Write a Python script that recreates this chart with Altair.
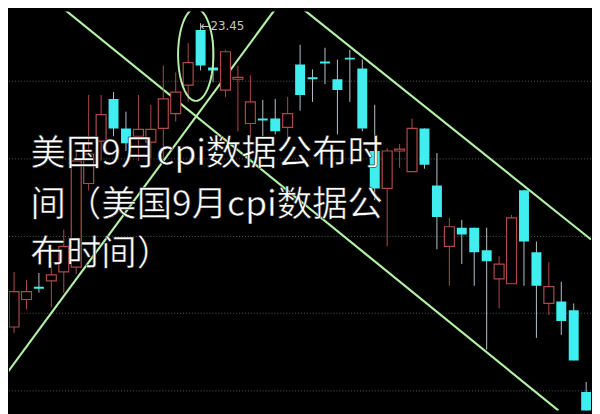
import altair as alt
import pandas as pd
import numpy as np

# Candles (index, open, high, low, close)
opens  = [20.23,20.36,20.64,20.77,20.83,20.92,20.97,21.82,22.25,22.68,22.38,22.30,22.24,22.38,22.53,22.82,
          23.38,23.00,22.77,22.88,22.43,22.48,22.48,22.39,23.03,22.90,23.06,22.88,23.10,22.99,22.15,21.77,
          22.15,21.94,22.38,21.80,21.18,21.37,21.37,21.14,20.85,20.80,21.75,21.12,20.60,20.62,20.53,19.70]
highs  = [20.65,20.92,20.84,20.91,21.02,21.35,22.15,22.72,22.72,22.75,22.55,22.72,22.62,23.02,22.95,23.25,
          23.45,23.28,23.18,23.02,22.92,22.67,22.68,22.70,23.23,22.98,23.20,23.08,23.18,23.08,22.62,22.18,
          22.22,22.48,22.38,22.13,21.47,21.45,21.37,21.37,21.08,21.50,21.75,21.23,21.02,20.82,20.60,19.80]
lows   = [20.15,20.30,20.54,20.71,20.56,20.71,20.90,21.75,22.05,22.30,22.15,22.05,22.08,22.08,22.45,22.65,
          22.97,22.85,22.70,22.35,22.28,22.30,22.32,22.23,22.56,22.65,22.83,22.32,22.65,22.35,21.65,21.18,
          21.98,21.94,21.97,21.15,20.78,21.00,20.78,20.13,20.55,20.80,20.78,20.25,20.48,20.28,20.02,19.45]
closes = [20.54,20.72,20.72,20.75,20.89,21.18,22.05,22.12,22.52,22.38,22.23,22.37,22.37,22.68,22.75,23.05,
          23.02,22.97,23.16,22.90,22.65,22.46,22.35,22.53,22.72,22.88,23.04,22.77,23.08,22.38,21.77,22.15,
          22.17,22.38,22.01,21.48,21.38,21.30,21.12,21.03,21.00,21.47,21.23,20.78,20.77,20.42,20.02,19.45]
idx = list(range(len(opens)))

# Trend lines (index, price endpoints)
line_names = ["A", "A", "B", "B", "C", "C"]
line_x = [4.47, 44.78, 23.68, 47.39, -0.04, 22.33]
line_y = [23.65, 19.51, 23.65, 21.25, 19.81, 23.65]

# Grid levels
grid_levels = [22.86, 22.07, 21.28, 20.50, 19.71]

# Peak annotation
peak_label = "←23.45"
peak_x, peak_y = 16.0, 23.42
ell_cx, ell_cy, ell_rx, ell_ry = 15.61, 23.13, 1.42, 0.47

title_lines = ["美国9月cpi数据公布时", "间（美国9月cpi数据公", "布时间）"]

XD = [0.593, 47.39]
YD = [19.51, 23.57]
xs = alt.Scale(domain=XD, nice=False, zero=False)
ys = alt.Scale(domain=YD, nice=False, zero=False)

df = pd.DataFrame({"i": idx, "open": opens, "high": highs, "low": lows, "close": closes})
df["up"] = df["close"] >= df["open"]
df["x1"] = df["i"] - 0.4
df["x2"] = df["i"] + 0.4

up = df[df["up"]]
dn = df[~df["up"]]

RED = "#b04a4a"
CYAN = "#40eef0"
WICK = "#b8c4cc"
GREEN = "#b4f0a8"

grid = alt.Chart(pd.DataFrame({"p": grid_levels})).mark_rule(
    color="#5a5a5a", strokeDash=[1, 2], strokeWidth=1
).encode(y=alt.Y("p:Q", scale=ys, axis=None))

wick_up = alt.Chart(up).mark_rule(color=RED, strokeWidth=1, clip=True).encode(
    x=alt.X("i:Q", scale=xs, axis=None),
    y=alt.Y("low:Q", scale=ys, axis=None), y2="high:Q")
wick_dn = alt.Chart(dn).mark_rule(color=WICK, strokeWidth=1, clip=True).encode(
    x=alt.X("i:Q", scale=xs, axis=None),
    y=alt.Y("low:Q", scale=ys, axis=None), y2="high:Q")

body_up = alt.Chart(up).mark_rect(fill="black", stroke=RED, strokeWidth=1.2, clip=True).encode(
    x=alt.X("x1:Q", scale=xs, axis=None), x2="x2:Q",
    y=alt.Y("open:Q", scale=ys, axis=None), y2="close:Q")
body_dn = alt.Chart(dn).mark_rect(fill=CYAN, clip=True).encode(
    x=alt.X("x1:Q", scale=xs, axis=None), x2="x2:Q",
    y=alt.Y("open:Q", scale=ys, axis=None), y2="close:Q")

lines = alt.Chart(pd.DataFrame({"n": line_names, "x": line_x, "y": line_y})).mark_line(
    color=GREEN, strokeWidth=2.2, clip=True
).encode(x=alt.X("x:Q", scale=xs, axis=None), y=alt.Y("y:Q", scale=ys, axis=None), detail="n:N")

t = np.linspace(0, 2 * np.pi, 90)
ell = pd.DataFrame({"x": ell_cx + ell_rx * np.cos(t), "y": ell_cy + ell_ry * np.sin(t), "o": np.arange(90)})
ellipse = alt.Chart(ell).mark_line(color=GREEN, strokeWidth=2, clip=True).encode(
    x=alt.X("x:Q", scale=xs, axis=None), y=alt.Y("y:Q", scale=ys, axis=None), order="o:Q")

label = alt.Chart(pd.DataFrame({"x": [peak_x], "y": [peak_y], "t": [peak_label]})).mark_text(
    align="left", baseline="middle", color="#c8c8c8", fontSize=12, font="DejaVu Sans"
).encode(x=alt.X("x:Q", scale=xs, axis=None), y=alt.Y("y:Q", scale=ys, axis=None), text="t:N")

txt_layers = []
for k, (line, yy) in enumerate(zip(title_lines, [145, 197, 247])):
    txt_layers.append(
        alt.Chart(pd.DataFrame({"t": [line]})).mark_text(
            align="left", baseline="middle", color="white", fontSize=36,
            font="Noto Sans CJK SC", stroke="black", strokeWidth=0.5
        ).encode(x=alt.value(22), y=alt.value(yy), text="t:N")
    )

chart = alt.layer(grid, lines, wick_up, wick_dn, body_up, body_dn, ellipse, label, *txt_layers).properties(
    width=592, height=406, background="black", padding=0
).configure_view(stroke=None)

chart.save("out.html", embed_options={"renderer": "svg", "actions": False})
